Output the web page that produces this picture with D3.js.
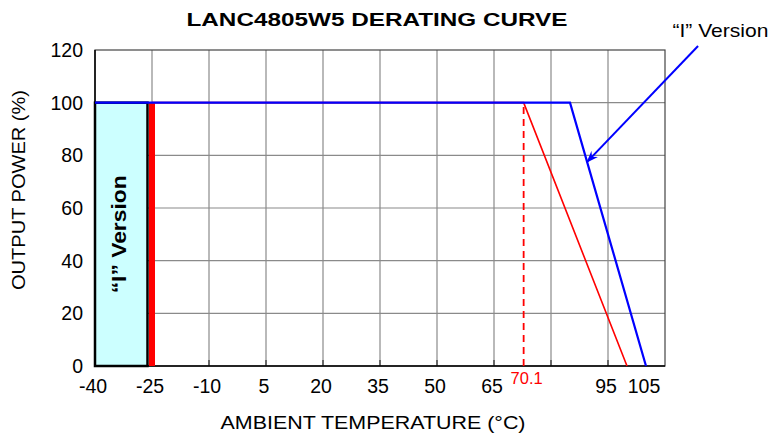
<!DOCTYPE html>
<html>
<head>
<meta charset="utf-8">
<script src="https://cdn.jsdelivr.net/npm/d3@7"></script>
<style>
  html, body { margin: 0; padding: 0; background: #fff; }
  svg { display: block; font-family: "Liberation Sans", Arial, sans-serif; }
</style>
</head>
<body>
<svg id="chart" width="770" height="433"></svg>
<script>
// ---- data ----
const title = "LANC4805W5 DERATING CURVE";
const xTitle = "AMBIENT TEMPERATURE (°C)";
const yTitle = "OUTPUT POWER (%)";
const xDomain = [-40, 110];
const yDomain = [0, 120];
const xGridValues = [-25, -10, 5, 20, 35, 50, 65, 80, 95];
const xTickValues = [-40, -25, -10, 5, 20, 35, 50, 65, 95, 105];
const xTickLabels = ["-40", "-25", "-10", "5", "20", "35", "50", "65", "95", "105"];
const yTickValues = [0, 20, 40, 60, 80, 100, 120];
const yTickLabels = ["0", "20", "40", "60", "80", "100", "120"];
// standard version curve (red)
const stdTemps = [-25, 72.8, 100];
const stdPower = [100, 100, 0];
const stdMinTemp = -25;
// "I" version curve (blue)
const iTemps = [-40, 85, 105];
const iPower = [100, 100, 0];
// extended range box for "I" version
const iRangeTemps = [-40, -25];
const iRangePower = [0, 100];
const iRangeLabel = "“I” Version";
// knee marker
const markerTemp = 72.8;
const markerLabel = "70.1";
// annotation arrow (data units)
const annoLabel = "“I” Version";
const annoFrom = [118.7, 121.5];
const annoTo = [89.5, 77.5];
const annoText = [124.6, 124.8];

// ---- layout ----
const svg = d3.select("#chart");
const margin = { left: 95, right: 105, top: 50, bottom: 67 };
const W = 770, H = 433;
const x = d3.scaleLinear().domain(xDomain).range([margin.left, W - margin.right]);
const y = d3.scaleLinear().domain(yDomain).range([H - margin.bottom, margin.top]);

// grid
const grid = svg.append("g");
grid.selectAll("line.vx").data(xGridValues).join("line")
  .attr("x1", d => x(d)).attr("x2", d => x(d))
  .attr("y1", y(yDomain[0])).attr("y2", y(yDomain[1]))
  .attr("stroke", "#8a8a8a").attr("stroke-width", 1.2);
grid.selectAll("line.hy").data(yTickValues.filter(v => v > 0 && v < 120)).join("line")
  .attr("x1", x(xDomain[0])).attr("x2", x(xDomain[1]))
  .attr("y1", d => y(d)).attr("y2", d => y(d))
  .attr("stroke", "#8a8a8a").attr("stroke-width", 1.2);

// inner tick marks at bottom
svg.append("g").selectAll("line").data(xGridValues).join("line")
  .attr("x1", d => x(d)).attr("x2", d => x(d))
  .attr("y1", y(0)).attr("y2", y(0) - 6)
  .attr("stroke", "#333").attr("stroke-width", 1.2);

// frame
svg.append("rect")
  .attr("x", x(xDomain[0])).attr("y", y(yDomain[1]))
  .attr("width", x(xDomain[1]) - x(xDomain[0]))
  .attr("height", y(yDomain[0]) - y(yDomain[1]))
  .attr("fill", "none").attr("stroke", "#444").attr("stroke-width", 1.2);
svg.append("line")
  .attr("x1", x(xDomain[0])).attr("x2", x(xDomain[1]))
  .attr("y1", y(0)).attr("y2", y(0))
  .attr("stroke", "#000").attr("stroke-width", 1.5);
svg.append("line")
  .attr("x1", x(xDomain[0])).attr("x2", x(xDomain[0]))
  .attr("y1", y(0)).attr("y2", y(yDomain[1]))
  .attr("stroke", "#000").attr("stroke-width", 1.5);

// "I" version range box
svg.append("rect")
  .attr("x", x(iRangeTemps[0]))
  .attr("y", y(iRangePower[1]))
  .attr("width", x(iRangeTemps[1]) - x(iRangeTemps[0]) - 4.5)
  .attr("height", y(iRangePower[0]) - y(iRangePower[1]))
  .attr("fill", "#CCFFFF").attr("stroke", "#000").attr("stroke-width", 2.5);
const boxCx = (x(iRangeTemps[0]) + x(iRangeTemps[1]) - 4.5) / 2;
const boxCy = (y(iRangePower[0]) + y(iRangePower[1])) / 2;
svg.append("text")
  .attr("transform", `translate(${boxCx - 2},${boxCy}) rotate(-90)`)
  .attr("text-anchor", "middle").attr("dominant-baseline", "central")
  .attr("font-size", 20).attr("font-weight", "bold")
  .attr("textLength", 118).attr("lengthAdjust", "spacingAndGlyphs")
  .text(iRangeLabel);

// red thick min-temp line
svg.append("line")
  .attr("x1", x(stdMinTemp)).attr("x2", x(stdMinTemp))
  .attr("y1", y(0)).attr("y2", y(100))
  .attr("stroke", "#FF0000").attr("stroke-width", 6);

// dashed marker
svg.append("line")
  .attr("x1", x(markerTemp)).attr("x2", x(markerTemp))
  .attr("y1", y(0)).attr("y2", y(100))
  .attr("stroke", "#FF0000").attr("stroke-width", 1.8)
  .attr("stroke-dasharray", "7,5");

const line = d3.line().x(d => x(d[0])).y(d => y(d[1]));
svg.append("path")
  .datum(stdTemps.map((t, i) => [t, stdPower[i]]))
  .attr("d", line).attr("fill", "none")
  .attr("stroke", "#FF0000").attr("stroke-width", 1.6);
svg.append("path")
  .datum(iTemps.map((t, i) => [t, iPower[i]]))
  .attr("d", line).attr("fill", "none")
  .attr("stroke", "#0000FF").attr("stroke-width", 2.2);

// y tick labels
svg.append("g").selectAll("text").data(yTickValues).join("text")
  .attr("x", x(xDomain[0]) - 12).attr("y", d => y(d))
  .attr("text-anchor", "end").attr("dominant-baseline", "central")
  .attr("font-size", 19.5)
  .text((d, i) => yTickLabels[i]);

// x tick labels
svg.append("g").selectAll("text").data(xTickValues).join("text")
  .attr("x", d => x(d) - 2).attr("y", y(0) + 27)
  .attr("text-anchor", "middle")
  .attr("font-size", 19.5)
  .text((d, i) => xTickLabels[i]);
svg.append("text")
  .attr("x", x(markerTemp) + 3).attr("y", y(0) + 18)
  .attr("text-anchor", "middle").attr("font-size", 16.5)
  .attr("fill", "#FF0000").text(markerLabel);

// axis titles
svg.append("text")
  .attr("x", 373).attr("y", 429)
  .attr("text-anchor", "middle").attr("font-size", 19)
  .attr("textLength", 305).attr("lengthAdjust", "spacingAndGlyphs")
  .text(xTitle);
svg.append("text")
  .attr("transform", `translate(25,190) rotate(-90)`)
  .attr("text-anchor", "middle").attr("font-size", 19)
  .attr("textLength", 200).attr("lengthAdjust", "spacingAndGlyphs")
  .text(yTitle);

// title
svg.append("text")
  .attr("x", 377).attr("y", 26)
  .attr("text-anchor", "middle").attr("font-size", 19).attr("font-weight", "bold")
  .attr("textLength", 381).attr("lengthAdjust", "spacingAndGlyphs")
  .text(title);

// annotation arrow
svg.append("defs").append("marker")
  .attr("id", "arr").attr("viewBox", "0 -5 12 10")
  .attr("refX", 11).attr("refY", 0)
  .attr("markerWidth", 12).attr("markerHeight", 10)
  .attr("markerUnits", "userSpaceOnUse")
  .attr("orient", "auto")
  .append("path").attr("d", "M0,-4.5 L12,0 L0,4.5 L4,0 Z").attr("fill", "#0000FF");
svg.append("line")
  .attr("x1", x(annoFrom[0])).attr("y1", y(annoFrom[1]))
  .attr("x2", x(annoTo[0])).attr("y2", y(annoTo[1]))
  .attr("stroke", "#0000FF").attr("stroke-width", 2)
  .attr("marker-end", "url(#arr)");
svg.append("text")
  .attr("x", x(annoText[0])).attr("y", y(annoText[1]))
  .attr("text-anchor", "middle").attr("font-size", 19)
  .attr("textLength", 96).attr("lengthAdjust", "spacingAndGlyphs")
  .text(annoLabel);
</script>
</body>
</html>
